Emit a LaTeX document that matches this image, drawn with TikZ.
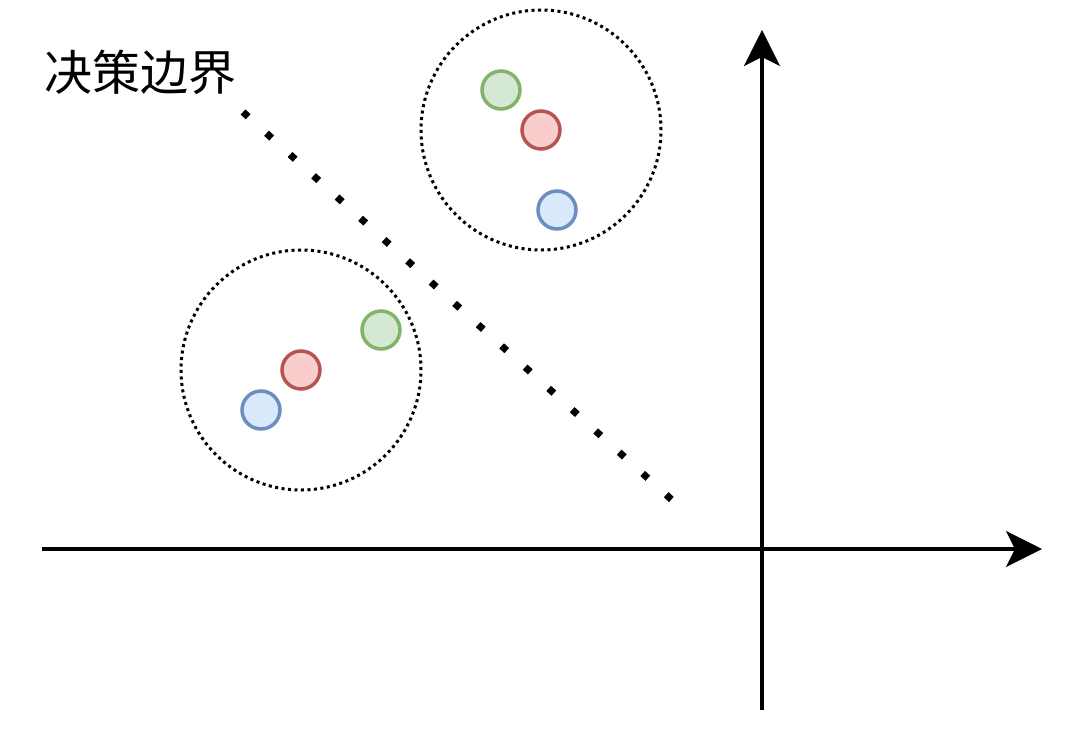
\documentclass[tikz,border=0pt]{standalone}
\usepackage{fontspec}
\newfontfamily\cjk{Noto Sans CJK SC}
\definecolor{gfill}{HTML}{D5E8D4}
\definecolor{gline}{HTML}{82B366}
\definecolor{rfill}{HTML}{F8CECC}
\definecolor{rline}{HTML}{B85450}
\definecolor{bfill}{HTML}{DAE8FC}
\definecolor{bline}{HTML}{6C8EBF}
\usetikzlibrary{arrows.meta}
\tikzset{
  pt/.style={circle,line width=3.5pt,minimum size=38pt,inner sep=0pt},
  gpt/.style={pt,draw=gline,fill=gfill},
  rpt/.style={pt,draw=rline,fill=rfill},
  bpt/.style={pt,draw=bline,fill=bfill},
  grp/.style={circle,draw,line width=3pt,dash pattern=on 3pt off 3.5pt,
              minimum size=240pt,inner sep=0pt},
  axis/.style={-{Stealth[length=36pt,width=36pt,inset=9pt]},line width=3.5pt},
  bound/.style={line width=7pt,dash pattern=on 7pt off 24.7pt},
  lbl/.style={font=\cjk\fontsize{48}{52}\selectfont,inner sep=0pt}
}
\begin{document}
\begin{tikzpicture}[x=1pt,y=-1pt]
    \useasboundingbox (0,0) rectangle (1076,744);
    % clusters
    \node[grp] (up) at (541,130) {};
    \node[grp] (low) at (301,370) {};
    \node[gpt] (g1) at (501,90) {};
    \node[rpt] (r1) at (541,130) {};
    \node[bpt] (b1) at (557,210) {};
    \node[gpt] (g2) at (381,330) {};
    \node[rpt] (r2) at (301,370) {};
    \node[bpt] (b2) at (261,410) {};
    % decision boundary
    \coordinate (db1) at (243,112);
    \coordinate (db2) at (672,500);
    \draw[bound] (db1) -- (db2);
    \node[lbl] (title) at (140,72) {决策边界};
    % axes
    \coordinate (xs) at (42,549);
    \coordinate (xe) at (1042,549);
    \coordinate (ys) at (762,710);
    \coordinate (ye) at (762,30);
    \draw[axis] (xs) -- (xe);
    \draw[axis] (ys) -- (ye);
  \end{tikzpicture}
\end{document}
